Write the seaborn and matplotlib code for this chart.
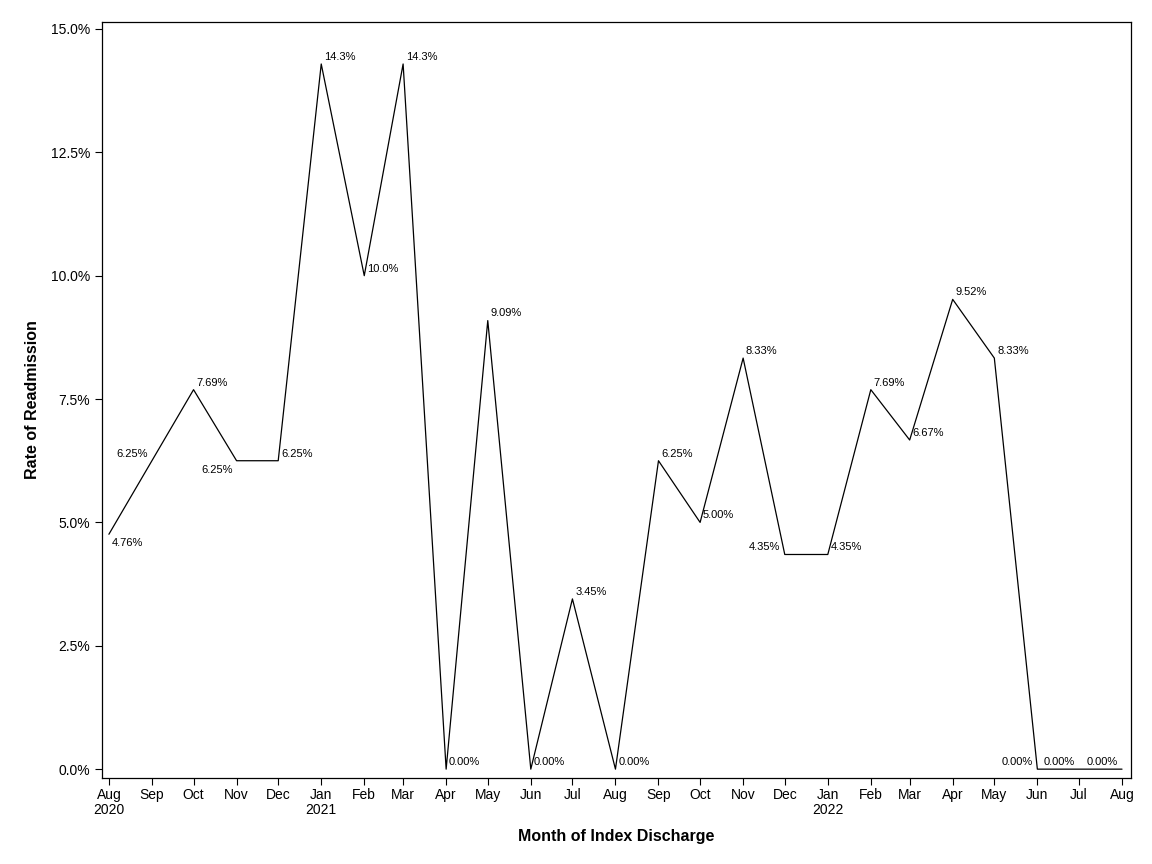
import matplotlib
matplotlib.use("Agg")
import matplotlib.pyplot as plt
import matplotlib.ticker as mticker
import pandas as pd
import seaborn as sns

# monthly readmission rates (percent), Aug 2020 - Aug 2022
months = pd.date_range("2020-08-01", "2022-08-01", freq="MS")
rates = [4.76, 6.25, 7.69, 6.25, 6.25, 14.29, 10.0, 14.29, 0.0, 9.09, 0.0, 3.45, 0.0,
         6.25, 5.0, 8.33, 4.35, 4.35, 7.69, 6.67, 9.52, 8.33, 0.0, 0.0, 0.0]

# where each point label sits: ar=above right, al=above left, br=below right, bl=below left
label_pos = ["br", "al", "ar", "bl", "ar", "ar", "ar", "ar", "ar", "ar", "ar", "ar", "ar",
             "ar", "ar", "ar", "al", "ar", "ar", "ar", "ar", "ar", "al", "al", "al"]

df = pd.DataFrame({"month": months, "rate": rates})

sns.set_style("ticks")
plt.rcParams["font.family"] = ["Liberation Sans", "DejaVu Sans"]
plt.rcParams["text.color"] = "black"
plt.rcParams["axes.labelcolor"] = "black"
plt.rcParams["xtick.color"] = "black"
plt.rcParams["ytick.color"] = "black"

fig = plt.figure(figsize=(11.52, 8.64), dpi=100)
ax = fig.add_axes([0.0885, 0.0995, 0.8933, 0.875])

sns.lineplot(data=df, x="month", y="rate", color="black", linewidth=0.9, ax=ax)

offsets = {"ar": (2, 1.5, "left", "bottom"), "al": (-3, 1.5, "right", "bottom"),
           "br": (2, -3, "left", "top"), "bl": (-3, -3, "right", "top")}
for m, r, p in zip(months, rates, label_pos):
    txt = f"{r:.1f}%" if r >= 10 else f"{r:.2f}%"
    dx, dy, ha, va = offsets[p]
    ax.annotate(txt, (m, r), xytext=(dx, dy), textcoords="offset points",
                ha=ha, va=va, fontsize=8, color="black")

ax.set_xlim(months[0] - pd.Timedelta(days=5), months[-1] + pd.Timedelta(days=6.5))
ax.set_ylim(-0.18, 15.14)
ax.yaxis.set_major_locator(mticker.MultipleLocator(2.5))
ax.yaxis.set_major_formatter(mticker.FuncFormatter(lambda v, _: f"{v:.1f}%"))

ax.set_xticks(months)
ticklabels = []
for m in months:
    lab = m.strftime("%b")
    if m == months[0] or m.month == 1:
        lab += "\n" + str(m.year)
    ticklabels.append(lab)
ax.set_xticklabels(ticklabels, linespacing=1.15)

ax.tick_params(axis="both", labelsize=10, length=5, width=0.8, direction="out")
ax.tick_params(axis="x", pad=2)
for s in ax.spines.values():
    s.set_visible(True)
    s.set_linewidth(0.9)
    s.set_color("black")

ax.set_xlabel("Month of Index Discharge", fontsize=11.5, fontweight="bold", labelpad=8)
ax.set_ylabel("Rate of Readmission", fontsize=11.5, fontweight="bold", labelpad=8)

fig.savefig("out.png", dpi=100)
